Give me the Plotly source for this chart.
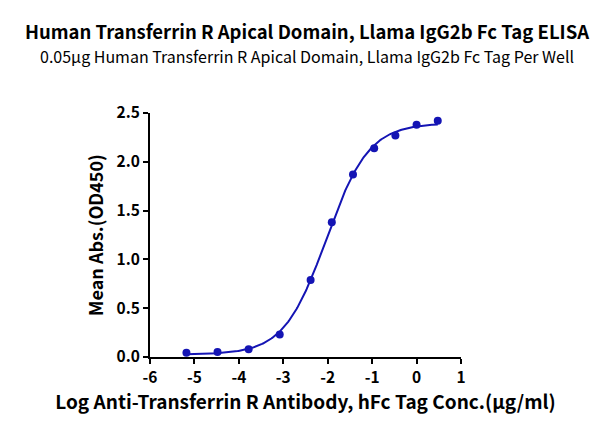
import numpy as np
import plotly.graph_objects as go

# log10 concentration (ug/ml) and mean OD450
log_conc = [-5.18, -4.48, -3.78, -3.08, -2.385, -1.908, -1.431, -0.954, -0.477, 0.0, 0.477]
mean_od = [0.044, 0.05, 0.08, 0.23, 0.79, 1.38, 1.87, 2.14, 2.27, 2.38, 2.42]

x_ticks = [-6, -5, -4, -3, -2, -1, 0, 1]
y_ticks = [0.0, 0.5, 1.0, 1.5, 2.0, 2.5]

title = "Human Transferrin R Apical Domain, Llama IgG2b Fc Tag ELISA"
subtitle = "0.05μg Human Transferrin R Apical Domain, Llama IgG2b Fc Tag Per Well"
x_title = "Log Anti-Transferrin R Antibody, hFc Tag Conc.(μg/ml)"
y_title = "Mean Abs.(OD450)"

blue = "#1414b4"
font = "Noto Sans CJK SC"

# 4PL fit: grid over logEC50 / hill, linear lstsq for bottom & top
xd = np.array(log_conc)
yd = np.array(mean_od)
best = None
for ec in np.linspace(-3, -1, 201):
    for h in np.linspace(0.5, 2.0, 151):
        f = 1.0 / (1.0 + 10 ** ((ec - xd) * h))
        A = np.column_stack([1 - f, f])
        coef, res, *_ = np.linalg.lstsq(A, yd, rcond=None)
        err = np.sum((A @ coef - yd) ** 2)
        if best is None or err < best[0]:
            best = (err, ec, h, coef)
_, ec50, hill, (bottom, top) = best

xf = np.linspace(min(log_conc), max(log_conc), 300)
yf = bottom + (top - bottom) / (1.0 + 10 ** ((ec50 - xf) * hill))

# page has an 8px body margin, so the figure is offset by 8px
W, H = 613, 439
ml, mr, mt, mb = 142, 160, 105, 90
plot_h = H - mt - mb

fig = go.Figure()
fig.add_trace(go.Scatter(x=xf, y=yf, mode="lines",
                         line=dict(color=blue, width=2), hoverinfo="skip"))
fig.add_trace(go.Scatter(x=log_conc, y=mean_od, mode="markers",
                         marker=dict(color=blue, size=8)))

fig.add_annotation(text="<b>" + title + "</b>", xref="paper", yref="paper",
                   x=(W / 2 - 8 - ml) / (W - ml - mr), y=1 + (mt - 23) / plot_h,
                   xanchor="center", yanchor="middle",
                   showarrow=False, font=dict(size=18.5, color="black", family=font))
fig.add_annotation(text=subtitle, xref="paper", yref="paper",
                   x=(W / 2 - 8 - ml) / (W - ml - mr), y=1 + (mt - 48) / plot_h,
                   xanchor="center", yanchor="middle",
                   showarrow=False, font=dict(size=16, color="black", family=font))

fig.update_layout(
    width=W, height=H,
    margin=dict(l=ml, r=mr, t=mt, b=mb),
    paper_bgcolor="white", plot_bgcolor="white",
    showlegend=False,
    font=dict(family=font, color="black"),
    xaxis=dict(range=[-6, 1], tickvals=x_ticks, ticktext=[str(v) for v in x_ticks],
               showgrid=False, zeroline=False, showline=True, linecolor="black",
               linewidth=2, ticks="outside", ticklen=5, tickwidth=2, tickcolor="black",
               tickfont=dict(size=15.5, family=font, weight="bold"),
               title=dict(text="<b>" + x_title + "</b>", font=dict(size=19, family=font),
                          standoff=8)),
    yaxis=dict(range=[0, 2.5], tickvals=y_ticks, ticktext=["%.1f" % v for v in y_ticks],
               showgrid=False, zeroline=False, showline=True, linecolor="black",
               linewidth=2, ticks="outside", ticklen=5, tickwidth=2, tickcolor="black",
               tickfont=dict(size=15.5, family=font, weight="bold"),
               title=dict(text="<b>" + y_title + "</b>", font=dict(size=18, family=font),
                          standoff=8)),
)

fig.write_html("out.html")
